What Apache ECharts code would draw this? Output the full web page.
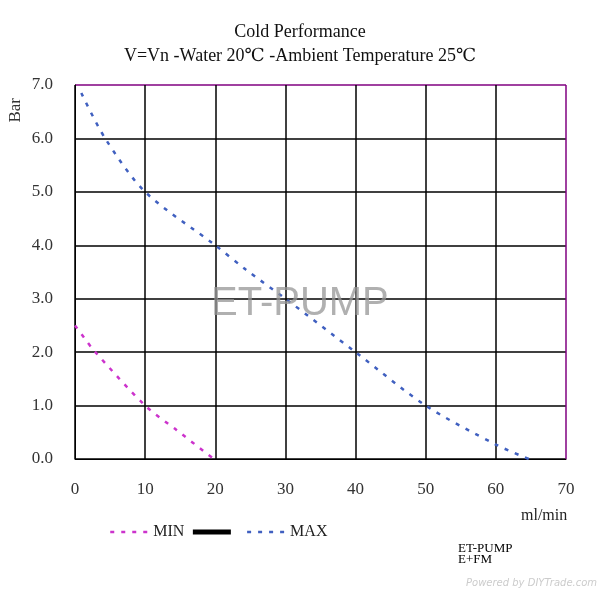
<!DOCTYPE html>
<html>
<head>
<meta charset="utf-8">
<script src="https://cdn.jsdelivr.net/npm/echarts@6/dist/echarts.min.js"></script>
<style>
html,body{margin:0;padding:0;background:#fff;}
#chart{width:600px;height:600px;}
</style>
</head>
<body>
<div id="chart"></div>
<script>
// 读图估计的数据 (flow ml/min, pressure Bar)
var maxFlow = [0.9, 4.3, 10, 20, 24.3, 30, 40, 50, 60, 64.7];
var maxBar  = [6.85, 6.0, 5.0, 4.0, 3.55, 3.0, 2.0, 1.0, 0.27, 0];
var minFlow = [0, 1.3, 2.7, 10, 14.5, 19.8];
var minBar  = [2.5, 2.27, 2.03, 1.0, 0.54, 0];
var yTicks = [0, 1, 2, 3, 4, 5, 6, 7];
var xTicks = [0, 10, 20, 30, 40, 50, 60, 70];

function pairs(xs, ys){
    var out = [];
    for (var i = 0; i < xs.length; i++) out.push([xs[i], ys[i]]);
    return out;
}

var serif = '"Liberation Serif", "DejaVu Serif", serif';
var gridColors = ['#000','#000','#000','#000','#000','#000','#000','#800080'];

var chart = echarts.init(document.getElementById('chart'));
chart.setOption({
    backgroundColor: '#fff',
    animation: false,
    title: {
        text: 'Cold Performance',
        subtext: 'V=Vn -Water 20℃ -Ambient Temperature 25℃',
        left: 'center',
        top: 18,
        itemGap: 6,
        textStyle: {fontFamily: serif, fontSize: 18, fontWeight: 'normal', color: '#111'},
        subtextStyle: {fontFamily: serif, fontSize: 18, color: '#111'}
    },
    legend: {
        left: 104,
        top: 519,
        itemWidth: 38,
        itemHeight: 16,
        itemGap: 6,
        itemStyle: {opacity: 0},
        textStyle: {fontFamily: serif, fontSize: 16, color: '#222'},
        data: [
            {name: 'MIN', lineStyle: {width: 2.5}},
            {name: ' ', lineStyle: {width: 5}},
            {name: 'MAX', lineStyle: {width: 2.5}}
        ]
    },
    grid: {left: 75, right: 34, top: 85, bottom: 141},
    xAxis: {
        type: 'value',
        min: xTicks[0],
        max: xTicks[xTicks.length - 1],
        interval: 10,
        axisLine: {lineStyle: {color: '#000', width: 1}},
        axisTick: {show: false},
        axisLabel: {fontFamily: serif, fontSize: 17, color: '#333', margin: 22},
        splitLine: {show: true, lineStyle: {color: gridColors, width: 1.5}}
    },
    yAxis: {
        type: 'value',
        min: yTicks[0],
        max: yTicks[yTicks.length - 1],
        interval: 1,
        axisLine: {show: true, lineStyle: {color: '#000', width: 1}},
        axisTick: {show: false},
        axisLabel: {
            fontFamily: serif, fontSize: 17, color: '#333', margin: 22,
            formatter: function (v) { return v.toFixed(1); }
        },
        splitLine: {show: true, lineStyle: {color: gridColors, width: 1.5}}
    },
    graphic: [
        {type: 'text', left: 7, top: 98, rotation: Math.PI / 2,
         style: {text: 'Bar', font: '17px ' + serif, fill: '#333'}},
        {type: 'text', left: 521, top: 508,
         style: {text: 'ml/min', font: '16px ' + serif, fill: '#222'}},
        {type: 'text', left: 211, top: 284, z: 10,
         style: {text: 'ET-PUMP', font: '40px "Liberation Sans", Arial, sans-serif', fill: 'rgba(150,150,150,0.75)'}},
        {type: 'text', left: 458, top: 542,
         style: {text: 'ET-PUMP\nE+FM', font: '13px ' + serif, fill: '#000', lineHeight: 11}},
        {type: 'text', left: 466, top: 578,
         style: {text: 'Powered by DIYTrade.com', font: 'italic 10px "DejaVu Sans", sans-serif', fill: '#ccc'}}
    ],
    series: [
        {
            name: 'MIN', type: 'line', smooth: 0.3, symbol: 'none',
            color: '#cc33cc',
            lineStyle: {color: '#cc33cc', width: 2.5, type: [4, 7]},
            data: pairs(minFlow, minBar)
        },
        {
            name: ' ', type: 'line', symbol: 'none',
            color: '#000',
            lineStyle: {color: '#000', width: 5},
            data: []
        },
        {
            name: 'MAX', type: 'line', smooth: 0.3, symbol: 'none',
            color: '#4060c0',
            lineStyle: {color: '#4060c0', width: 2.5, type: [4, 7]},
            data: pairs(maxFlow, maxBar)
        }
    ]
});
</script>
</body>
</html>
